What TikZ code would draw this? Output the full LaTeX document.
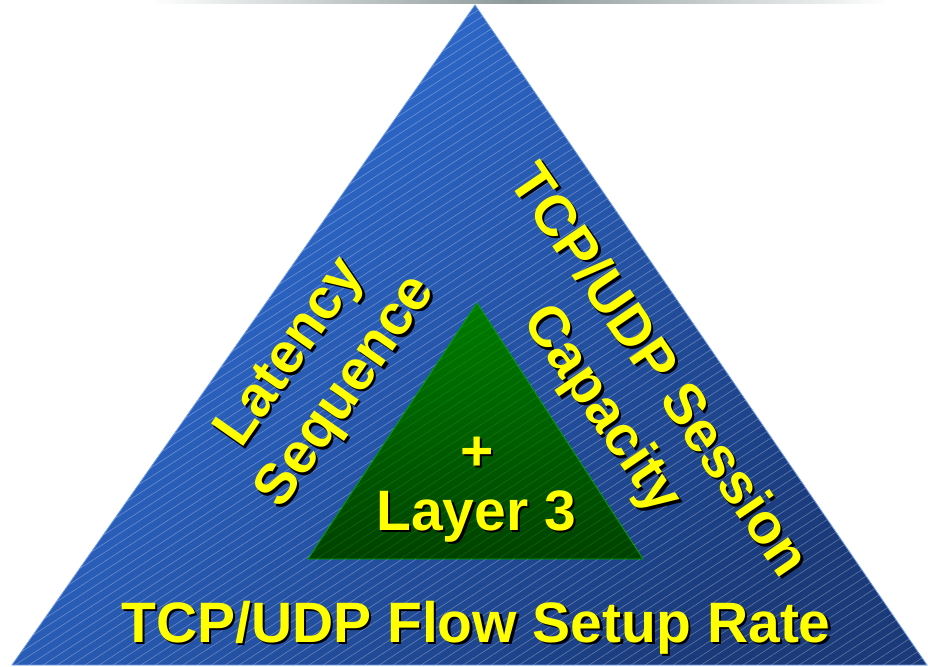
\documentclass[tikz,border=0pt]{standalone}
\usepackage{fontspec}
\setmainfont{Liberation Sans}
\definecolor{bluetl}{HTML}{3171DA}
\definecolor{bluemid}{HTML}{2B63C8}
\definecolor{bluebr}{HTML}{1A3A7A}
\definecolor{blueedge}{HTML}{6F9CE8}
\definecolor{greentop}{HTML}{007C00}
\definecolor{greenbot}{HTML}{004200}
\definecolor{greenedge}{HTML}{00A000}
\definecolor{bandgray}{HTML}{8C9898}
\definecolor{txtyellow}{HTML}{FFFF00}
% text with a black drop shadow: x offset, y offset (in the text's own frame), text
\newcommand\shd[3]{\leavevmode\rlap{\kern#1pt\raisebox{#2pt}{\color{black}#3}}#3}
\begin{document}
\begin{tikzpicture}[x=1pt,y=-1pt,
  lbl/.style={text=txtyellow, font=\bfseries\fontsize{57}{68}\selectfont, inner sep=0pt, align=center},
  stripe/.style={white, opacity=0.3, line width=0.6pt},
  gstripe/.style={green!70!white, opacity=0.16, line width=0.6pt}]
\useasboundingbox (0,0) rectangle (928,666);
\fill[white] (0,0) rectangle (928,666);
% top shadow band
\shade[left color=white, right color=white, middle color=bandgray] (150,0) rectangle (890,4);
% outer triangle
\coordinate (A) at (475,5);
\coordinate (B) at (12,665);
\coordinate (C) at (927,665);
\shade[top color=bluetl, middle color=bluemid, bottom color=bluebr, shading angle=45] (A) -- (B) -- (C) -- cycle;
\begin{scope}
  \clip (A) -- (B) -- (C) -- cycle;
  \foreach \c in {-1100,-1086,...,950} \draw[stripe] (\c,680) -- ++(1100,-714);
\end{scope}
\draw[blueedge, line width=0.8pt] (A) -- (B) -- (C) -- cycle;
% inner triangle
\coordinate (D) at (477,303);
\coordinate (E) at (308,559);
\coordinate (F) at (643,559);
\shade[top color=greentop, bottom color=greenbot] (D) -- (E) -- (F) -- cycle;
\begin{scope}
  \clip (D) -- (E) -- (F) -- cycle;
  \foreach \c in {-500,-486,...,700} \draw[gstripe] (\c,580) -- ++(500,-325);
\end{scope}
\draw[greenedge, line width=0.8pt] (D) -- (E) -- (F) -- cycle;
% texts
\node[lbl, rotate=55] (lat) at (321,374) {\shd{-0.6}{-3.5}{Latency}\\\shd{-0.6}{-3.5}{Sequence}};
\node[lbl, rotate=-55.6] (ses) at (629,391) {\shd{3.5}{0.6}{TCP/UDP Session}\\\shd{3.5}{0.6}{Capacity}};
\node[lbl, anchor=base] (flow) at (476,642) {\shd{2.5}{-2.5}{TCP/UDP Flow Setup Rate}};
\node[lbl, anchor=base] (plus) at (477,470) {\shd{2.5}{-2.5}{+}};
\node[lbl, anchor=base] (layer) at (476,530) {\shd{2.5}{-2.5}{Layer 3}};
\end{tikzpicture}
\end{document}
